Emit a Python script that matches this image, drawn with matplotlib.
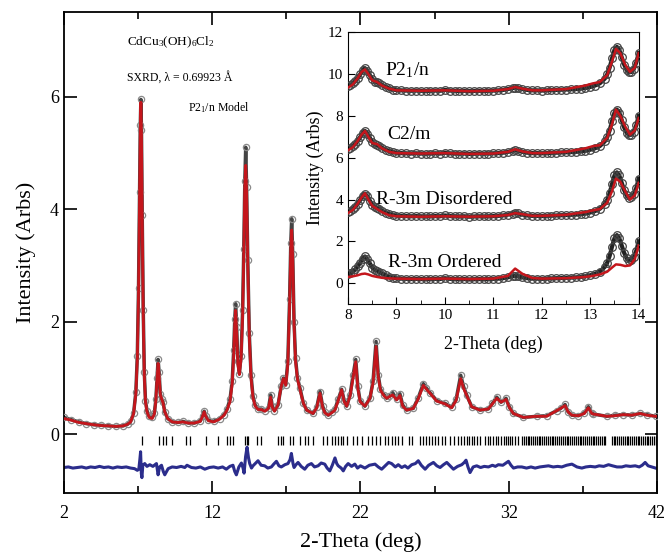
import numpy as np
import matplotlib
import matplotlib.pyplot as plt

matplotlib.use("Agg")

plt.rcParams["font.family"] = ["Liberation Serif", "DejaVu Serif"]
plt.rcParams["mathtext.fontset"] = "custom"
plt.rcParams["mathtext.rm"] = "Liberation Serif"
plt.rcParams["mathtext.it"] = "Liberation Serif:italic"

twoTheta = [2.0, 2.5, 3.0, 3.5, 4.0, 4.5, 5.0, 5.5, 6.0, 6.3, 6.5, 6.7, 6.85, 6.95, 7.03, 7.1, 7.15, 7.19,
            7.23, 7.28, 7.35, 7.42, 7.5, 7.6, 7.75, 7.95, 8.1, 8.2, 8.28, 8.35, 8.42, 8.5, 8.6, 8.68, 8.8,
            9.0, 9.3, 9.7, 10.0, 10.4, 10.8, 11.2, 11.35, 11.46, 11.58, 11.75, 12.1, 12.5, 12.8, 13.0, 13.2,
            13.35, 13.45, 13.52, 13.58, 13.65, 13.73, 13.83, 13.95, 14.05, 14.13, 14.2, 14.26, 14.32, 14.4,
            14.5, 14.62, 14.75, 14.9, 15.1, 15.3, 15.55, 15.8, 15.94, 16.05, 16.2, 16.44, 16.65, 16.8, 16.96,
            17.1, 17.22, 17.3, 17.36, 17.43, 17.52, 17.62, 17.75, 17.92, 18.15, 18.37, 18.8, 19.05, 19.27,
            19.45, 19.6, 19.83, 20.1, 20.28, 20.5, 20.73, 20.9, 21.07, 21.3, 21.5, 21.68, 21.82, 21.97, 22.3,
            22.64, 22.85, 23.05, 23.2, 23.35, 23.6, 23.77, 23.95, 24.17, 24.44, 24.66, 24.85, 25.11, 25.56,
            25.9, 26.24, 26.45, 26.69, 27.14, 27.7, 28.15, 28.45, 28.76, 28.95, 29.16, 29.5, 30.06, 30.62,
            30.9, 31.19, 31.48, 31.82, 32.05, 32.31, 32.99, 33.89, 34.56, 35.24, 35.5, 35.8, 36.0, 36.25,
            36.7, 37.1, 37.37, 37.6, 37.71, 38.61, 39.2, 39.73, 40.3, 40.86, 41.3, 41.9]
yObs = [0.30, 0.26, 0.22, 0.19, 0.17, 0.16, 0.15, 0.14, 0.15, 0.18, 0.23, 0.38, 0.75, 1.4, 2.6, 4.3, 5.5, 5.95,
        5.4, 3.9, 2.2, 1.1, 0.6, 0.42, 0.32, 0.30, 0.38, 0.62, 1.0, 1.33, 1.1, 0.72, 0.62, 0.58, 0.40,
        0.28, 0.22, 0.21, 0.23, 0.20, 0.20, 0.24, 0.33, 0.41, 0.32, 0.25, 0.23, 0.28, 0.35, 0.45, 0.62,
        0.95, 1.5, 2.05, 2.32, 1.9, 1.3, 1.08, 1.4, 2.2, 3.3, 4.5, 5.1, 4.4, 3.1,
        1.8, 1.05, 0.68, 0.52, 0.45, 0.45, 0.42, 0.47, 0.70, 0.50, 0.42, 0.52, 0.85, 1.0, 0.88,
        1.3, 2.4, 3.4, 3.83, 3.2, 2.0, 1.35, 1.0, 0.82, 0.55, 0.43, 0.37, 0.48, 0.76,
        0.50, 0.39, 0.34, 0.40, 0.45, 0.62, 0.80, 0.60, 0.50, 0.70, 1.05, 1.33, 0.85, 0.60, 0.50,
        0.64, 0.95, 1.65, 1.05, 0.80, 0.70, 0.64, 0.68, 0.74, 0.62, 0.72, 0.52, 0.43, 0.46,
        0.65, 0.90, 0.82, 0.74, 0.60, 0.55, 0.48, 0.62, 1.05, 0.85, 0.70, 0.49, 0.43, 0.45,
        0.55, 0.66, 0.57, 0.64, 0.48, 0.37, 0.30, 0.32, 0.33, 0.42, 0.46, 0.53, 0.40, 0.34,
        0.33, 0.38, 0.49, 0.38, 0.36, 0.32, 0.34, 0.35, 0.34, 0.37, 0.35, 0.32]
yCalc = [0.28, 0.25, 0.21, 0.19, 0.17, 0.155, 0.15, 0.14, 0.15, 0.18, 0.22, 0.37, 0.72, 1.35, 2.5, 4.2, 5.4, 5.9,
         5.3, 3.8, 2.1, 1.05, 0.58, 0.40, 0.30, 0.28, 0.36, 0.60, 0.98, 1.26, 1.05, 0.70, 0.62, 0.56, 0.40,
         0.28, 0.22, 0.21, 0.22, 0.20, 0.20, 0.23, 0.32, 0.40, 0.31, 0.24, 0.22, 0.27, 0.34, 0.43, 0.58,
         0.90, 1.4, 1.95, 2.2, 1.8, 1.25, 1.06, 1.35, 2.1, 3.2, 4.4, 4.78, 4.3, 3.0,
         1.75, 1.0, 0.65, 0.50, 0.44, 0.44, 0.41, 0.46, 0.66, 0.48, 0.41, 0.52, 0.85, 0.99, 0.87,
         1.25, 2.3, 3.3, 3.63, 3.1, 1.95, 1.3, 0.98, 0.80, 0.55, 0.43, 0.37, 0.47, 0.73,
         0.48, 0.38, 0.34, 0.39, 0.43, 0.60, 0.79, 0.58, 0.50, 0.68, 1.0, 1.29, 0.82, 0.58, 0.50,
         0.64, 0.92, 1.56, 1.02, 0.78, 0.68, 0.64, 0.67, 0.70, 0.61, 0.69, 0.50, 0.43, 0.46,
         0.63, 0.87, 0.80, 0.73, 0.59, 0.54, 0.47, 0.60, 0.99, 0.82, 0.69, 0.49, 0.43, 0.45,
         0.54, 0.64, 0.57, 0.62, 0.47, 0.37, 0.30, 0.32, 0.32, 0.42, 0.46, 0.51, 0.40, 0.34,
         0.33, 0.37, 0.47, 0.37, 0.36, 0.32, 0.33, 0.35, 0.34, 0.37, 0.34, 0.32]

# Difference curve (obs - calc, shifted down)
diffX = [2.0, 2.3, 2.6, 2.9, 3.2, 3.5, 3.8, 4.1, 4.4, 4.7, 5.0, 5.3, 5.6, 5.9, 6.2, 6.5, 6.76, 6.95, 7.05,
         7.12, 7.17, 7.22, 7.26, 7.32, 7.45, 7.6, 7.79, 8.0, 8.24, 8.35, 8.45, 8.58, 8.7, 8.8, 9.03, 9.3,
         9.6, 9.9, 10.15, 10.3, 10.6, 10.9, 11.2, 11.5, 11.8, 12.1, 12.4, 12.7, 12.95, 13.19, 13.4, 13.52,
         13.63, 13.8, 13.97, 14.08, 14.15, 14.25, 14.35, 14.45, 14.53, 14.65, 14.75, 14.9, 15.09, 15.3,
         15.54, 15.75, 15.99, 16.15, 16.33, 16.5, 16.66, 16.9, 17.11, 17.25, 17.34, 17.45, 17.52, 17.65,
         17.79, 18.0, 18.24, 18.45, 18.69, 18.9, 19.14, 19.35, 19.59, 19.75, 19.93, 20.1, 20.28, 20.4,
         20.5, 20.7, 20.84, 21.0, 21.17, 21.4, 21.62, 21.8, 22.0, 22.3, 22.6, 22.98, 23.2, 23.43, 23.7,
         23.9, 24.1, 24.35, 24.55, 24.78, 25.0, 25.2, 25.46, 25.7, 25.9, 26.1, 26.36, 26.6, 26.92, 27.15,
         27.37, 27.6, 27.82, 28.05, 28.27, 28.55, 28.83, 29.0, 29.12, 29.25, 29.39, 29.6, 29.84, 30.1,
         30.35, 30.63, 30.9, 31.1, 31.3, 31.6, 31.98, 32.15, 32.32, 32.6, 32.88, 33.2, 33.5, 33.78, 34.1,
         34.4, 34.68, 35.0, 35.3, 35.58, 35.9, 36.26, 36.6, 36.93, 37.2, 37.5, 37.83, 38.1, 38.4, 38.73,
         39.0, 39.3, 39.63, 39.9, 40.2, 40.53, 40.8, 41.0, 41.2, 41.4, 41.65, 41.9]
diffY = [-0.59, -0.58, -0.60, -0.59, -0.58, -0.60, -0.58, -0.59, -0.57, -0.59, -0.58, -0.60, -0.58, -0.59,
         -0.58, -0.60, -0.61, -0.64, -0.62, -0.45, -0.31, -0.70, -0.77, -0.55, -0.52, -0.57, -0.54, -0.57,
         -0.52, -0.72, -0.58, -0.55, -0.66, -0.72, -0.61, -0.58, -0.59, -0.57, -0.59, -0.55, -0.59, -0.60,
         -0.58, -0.62, -0.59, -0.58, -0.60, -0.58, -0.62, -0.57, -0.55, -0.66, -0.72, -0.58, -0.51, -0.60,
         -0.69, -0.40, -0.23, -0.42, -0.52, -0.60, -0.56, -0.52, -0.47, -0.55, -0.56, -0.60, -0.58, -0.53,
         -0.48, -0.56, -0.58, -0.54, -0.52, -0.45, -0.34, -0.52, -0.59, -0.54, -0.50, -0.57, -0.62, -0.55,
         -0.52, -0.58, -0.56, -0.51, -0.53, -0.60, -0.65, -0.55, -0.42, -0.52, -0.56, -0.60, -0.65, -0.57,
         -0.52, -0.57, -0.53, -0.60, -0.56, -0.60, -0.55, -0.53, -0.58, -0.62, -0.55, -0.50, -0.52, -0.58,
         -0.54, -0.59, -0.56, -0.60, -0.54, -0.52, -0.47, -0.55, -0.62, -0.55, -0.50, -0.56, -0.59, -0.54,
         -0.50, -0.56, -0.62, -0.57, -0.54, -0.50, -0.46, -0.58, -0.68, -0.58, -0.56, -0.59, -0.57, -0.58,
         -0.55, -0.57, -0.54, -0.55, -0.48, -0.55, -0.60, -0.58, -0.58, -0.60, -0.58, -0.60, -0.58, -0.57,
         -0.56, -0.58, -0.57, -0.58, -0.55, -0.53, -0.58, -0.60, -0.58, -0.57, -0.58, -0.56, -0.57, -0.54,
         -0.56, -0.58, -0.58, -0.56, -0.57, -0.56, -0.58, -0.55, -0.50, -0.56, -0.58, -0.60]

# Bragg reflection positions
braggPos = [7.24, 8.43, 8.70, 8.88, 9.26, 10.23, 10.50, 11.56, 12.37, 12.97, 13.20, 13.38, 14.21, 14.32,
            14.43, 15.00, 15.29, 16.46, 16.64, 16.80, 17.25, 17.47, 17.92, 18.26, 18.48, 18.82, 19.49,
            19.72, 20.06, 20.28, 20.46, 20.66, 20.84, 21.07, 21.51, 21.74, 22.12, 22.49, 22.76, 23.03,
            23.32, 23.66, 23.88, 24.11, 24.33, 24.51, 24.78, 25.27, 25.50, 26.02, 26.20, 26.40, 26.62,
            26.85, 27.03, 27.25, 27.52, 27.70, 28.04, 28.33, 28.60, 28.78, 28.96, 29.17, 29.35, 29.50,
            29.68, 29.86, 30.07, 30.40, 30.58, 30.76, 30.94, 31.12, 31.30, 31.48, 31.66, 31.80, 31.93,
            32.09, 32.25, 32.43, 32.65, 32.88, 33.01, 33.14, 33.27, 33.38, 33.52, 33.63, 33.77, 33.90,
            34.02, 34.13, 34.27, 34.40, 34.51, 34.65, 34.78, 34.90, 35.01, 35.15, 35.28, 35.40, 35.52,
            35.64, 35.77, 35.90, 36.03, 36.15, 36.26, 36.40, 36.53, 36.64, 36.78, 36.90, 37.02, 37.14,
            37.27, 37.40, 37.52, 37.65, 37.77, 37.90, 38.01, 38.14, 38.27, 38.40, 38.52, 38.96, 39.08,
            39.20, 39.33, 39.45, 39.58, 39.70, 39.81, 39.95, 40.07, 40.20, 40.32, 40.44, 40.57, 40.69,
            40.80, 40.93, 41.05, 41.18, 41.30, 41.42, 41.55, 41.67, 41.80, 41.92]

# Inset: observed low angle data (R-3m Ordered level), shown four times offset by 3
insetX = [8.0, 8.05, 8.1, 8.15, 8.2, 8.25, 8.3, 8.35, 8.4, 8.45, 8.5, 8.55, 8.6, 8.65, 8.7,
          8.78, 8.85, 8.93,
          9.0, 9.1, 9.2, 9.3, 9.4, 9.5, 9.6, 9.7, 9.8, 9.9, 10.0, 10.1, 10.2, 10.3, 10.4, 10.5, 10.6, 10.7,
          10.8, 10.9, 11.0, 11.1, 11.2, 11.3,
          11.4, 11.45, 11.5,
          11.6, 11.7, 11.8, 11.9, 12.0, 12.1, 12.2, 12.3, 12.4, 12.5, 12.6, 12.7, 12.8, 12.9, 13.0, 13.1,
          13.2, 13.3,
          13.35, 13.4, 13.45, 13.5, 13.55, 13.6, 13.65, 13.7, 13.75, 13.8, 13.85, 13.9, 13.95, 14.0]
insetObs = [0.42, 0.47, 0.55, 0.66, 0.8, 0.98, 1.18, 1.28, 1.15, 0.95, 0.75, 0.64, 0.6, 0.55, 0.47,
            0.38, 0.31, 0.26,
            0.23, 0.22, 0.21, 0.2, 0.21, 0.2, 0.19, 0.2, 0.21, 0.2, 0.24, 0.21, 0.2, 0.19, 0.2, 0.18, 0.19, 0.2,
            0.19, 0.2, 0.21, 0.22, 0.24, 0.28,
            0.33, 0.35, 0.34,
            0.28, 0.24, 0.22, 0.22, 0.21, 0.22, 0.23, 0.24, 0.25, 0.26, 0.27, 0.28, 0.3, 0.33, 0.38, 0.45,
            0.56, 0.78,
            0.98, 1.3, 1.75, 2.15, 2.3, 2.15, 1.8, 1.45, 1.2, 1.08, 1.1, 1.25, 1.55, 2.0]

# Inset model curves
fitX = [8.0, 8.1, 8.2, 8.28, 8.35, 8.42, 8.5, 8.6, 8.7, 8.85, 9.0, 9.5, 10.0, 10.5, 11.0, 11.3, 11.45,
        11.6, 11.8, 12.0, 12.5, 12.9, 13.05, 13.2, 13.35, 13.45, 13.53, 13.62, 13.72, 13.82, 13.92, 14.0]
fitP21n = [9.35, 9.5, 9.8, 10.1, 10.22, 10.0, 9.7, 9.62, 9.45, 9.3, 9.22, 9.2, 9.22, 9.18, 9.2, 9.28, 9.38,
           9.3, 9.22, 9.22, 9.28, 9.45, 9.55, 9.62, 9.95, 10.6, 11.2, 11.0, 10.45, 10.1, 10.3, 11.0]
fitC2m = [6.35, 6.5, 6.8, 7.1, 7.28, 7.0, 6.7, 6.65, 6.45, 6.28, 6.22, 6.2, 6.22, 6.18, 6.2, 6.28, 6.4,
          6.3, 6.22, 6.22, 6.28, 6.45, 6.55, 6.6, 6.95, 7.6, 8.3, 8.0, 7.5, 7.1, 7.3, 7.9]
fitDisordered = [3.35, 3.5, 3.8, 4.1, 4.3, 4.0, 3.7, 3.55, 3.4, 3.25, 3.2, 3.18, 3.2, 3.18, 3.2, 3.26, 3.35,
                 3.3, 3.22, 3.22, 3.27, 3.4, 3.48, 3.55, 3.85, 4.4, 5.0, 4.85, 4.4, 4.0, 4.2, 4.8]
fitOrdered = [0.3, 0.33, 0.38, 0.44, 0.46, 0.42, 0.35, 0.3, 0.26, 0.23, 0.22, 0.2, 0.22, 0.2, 0.22, 0.35, 0.7,
              0.45, 0.25, 0.22, 0.24, 0.3, 0.35, 0.42, 0.55, 0.75, 0.9, 0.88, 0.82, 0.85, 1.15, 1.8]
insetOffsets = [9, 6, 3, 0]
insetFits = [fitP21n, fitC2m, fitDisordered, fitOrdered]
insetNames = ["P2$_1$/n", "C2/m", "R-3m Disordered", "R-3m Ordered"]
insetLabelPos = [(8.76, 10.2), (8.82, 7.1), (8.58, 4.0), (8.82, 1.0)]

red = "#c4161c"
navy = "#2b2d8c"

fig = plt.figure(figsize=(6.66, 5.55), dpi=100)
ax = fig.add_axes([0.096, 0.111, 0.8905, 0.867])

# observed: dark band plus open circles
ax.plot(twoTheta, yObs, color="#444444", lw=2.5, zorder=2)
ax.plot(twoTheta, yObs, linestyle="none", marker="o", markersize=4.5, markerfacecolor="none",
        markeredgecolor="#8a8a8a", markeredgewidth=0.9, zorder=3)
ax.plot(twoTheta, yCalc, color=red, lw=2.0, zorder=4)
ax.vlines(braggPos, -0.19, -0.03, color="black", lw=0.9)
ax.plot(diffX, diffY, color=navy, lw=2.2)

ax.set_xlim(2, 42)
ax.set_ylim(-1.05, 7.5)
ax.set_xticks([2, 12, 22, 32, 42])
ax.set_xticks([7, 17, 27, 37], minor=True)
ax.set_yticks([0, 2, 4, 6])
ax.tick_params(which="both", direction="in", top=True, right=True, labelsize=13, width=1.2)
ax.tick_params(which="major", length=9)
ax.tick_params(which="minor", length=5)
ax.tick_params(axis="x", pad=8)
for s in ax.spines.values():
    s.set_linewidth(1.3)
ax.set_xlabel("2-Theta (deg)", fontsize=16, labelpad=8)
ax.set_ylabel("Intensity (Arbs)", fontsize=16, labelpad=10)

ax.text(6.25, 6.97, "CdCu$_3$(OH)$_6$Cl$_2$", fontsize=9.5, va="center")
ax.text(6.25, 6.33, "SXRD, λ = 0.69923 Å", fontsize=8.5, va="center")
ax.text(10.36, 5.8, "P2$_1$/n Model", fontsize=8.5, va="center")

# Inset
axIn = fig.add_axes([0.5225, 0.452, 0.4365, 0.490])
for fit, off, name, pos in zip(insetFits, insetOffsets, insetNames, insetLabelPos):
    obs = np.array(insetObs) + off
    axIn.plot(insetX, obs, color="#222222", lw=3.0, zorder=2)
    axIn.plot(insetX, obs, linestyle="none", marker="o", markersize=5.5, markerfacecolor="none",
              markeredgecolor="#444444", markeredgewidth=0.9, zorder=3)
    axIn.plot(fitX, fit, color=red, lw=1.8, zorder=4)
    axIn.text(pos[0], pos[1], name, fontsize=14, va="center")

axIn.set_xlim(8, 14)
axIn.set_ylim(-1, 12)
axIn.set_xticks(range(8, 15))
axIn.set_xticks(np.arange(8.5, 14, 1.0), minor=True)
axIn.set_yticks(range(0, 13, 2))
axIn.tick_params(which="both", direction="in", labelsize=11)
axIn.tick_params(which="major", length=5)
axIn.tick_params(which="minor", length=3)
axIn.set_xlabel("2-Theta (deg)", fontsize=13, labelpad=10)
axIn.set_ylabel("Intensity (Arbs)", fontsize=13, labelpad=3)

plt.savefig("out.png", dpi=100)
